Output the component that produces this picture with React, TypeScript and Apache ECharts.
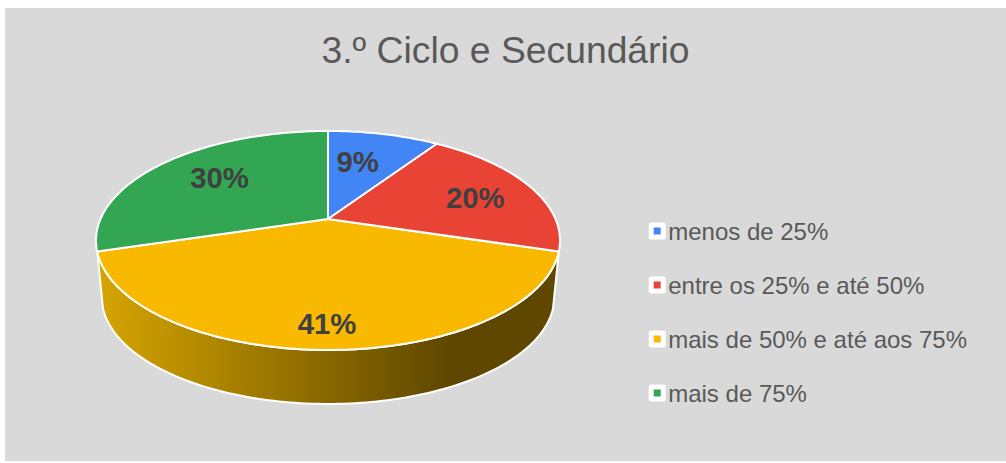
import React, { useEffect, useRef } from "react";
import * as echarts from "echarts";

const categories = ["menos de 25%", "entre os 25% e até 50%", "mais de 50% e até aos 75%", "mais de 75%"];
const values = [9.4, 20.3, 40.6, 29.7];
const colors = ["#4285f4", "#e94335", "#f8b900", "#33a654"];
const titleText = "3.º Ciclo e Secundário";

// projection of the tilted disc
const CX = 328, CY = 219, A = 227.5, B = 105.3, K = 0.196;
const WALL_SCALE = 0.975, WALL_DROP = 57.3;
const labelRadius = [0.56, 0.72, 0.87, 0.65];
const labelNudge = [[-4, -6], [0, 3], [-1, -6], [2, -4]];

const total = values.reduce((a, b) => a + b, 0);
const cumBefore = (i: number) => values.slice(0, i).reduce((a, b) => a + b, 0);

const project = (theta: number, r = 1, s = 1, dy = 0): number[] => {
  const u = r * Math.sin(theta), v = r * Math.cos(theta), w = 1 + K * v;
  return [CX + (s * A * u) / w, CY + dy - (s * B * v) / w];
};
const rim = (t0: number, t1: number, s = 1, dy = 0): number[][] => {
  const n = Math.max(4, Math.ceil(Math.abs(t1 - t0) * 50));
  const pts: number[][] = [];
  for (let i = 0; i <= n; i++) pts.push(project(t0 + ((t1 - t0) * i) / n, 1, s, dy));
  return pts;
};

const renderSlice = (idx: number) => (_params: any, api: any) => {
  const val = api.value(0);
  const t0 = (cumBefore(idx) / total) * Math.PI * 2;
  const t1 = t0 + (val / total) * Math.PI * 2;
  const children: any[] = [];
  if (Math.cos(t0) < 0 && Math.cos(t1) < 0) {
    const wall = [...rim(t0, t1), ...rim(t1, t0, WALL_SCALE, WALL_DROP)];
    children.push({
      type: "polygon",
      shape: { points: wall },
      style: {
        fill: new echarts.graphic.LinearGradient(0, 0, 1, 0, [
          { offset: 0, color: "#d6a500" },
          { offset: 0.76, color: "#5f4700" },
          { offset: 1, color: "#5f4700" },
        ]),
        stroke: "#ffffff",
        lineWidth: 2,
        lineJoin: "round",
      },
    });
  }
  children.push({
    type: "polygon",
    shape: { points: [[CX, CY], ...rim(t0, t1)] },
    style: { fill: api.visual("color"), stroke: "#ffffff", lineWidth: 2, lineJoin: "round" },
  });
  return { type: "group", children };
};

const renderLabel = (idx: number) => (_params: any, api: any) => {
  const val = api.value(0);
  const t0 = (cumBefore(idx) / total) * Math.PI * 2;
  const mid = t0 + (val / total) * Math.PI;
  const [x, y] = project(mid, labelRadius[idx]);
  return {
    type: "text",
    style: {
      x: x + labelNudge[idx][0],
      y: y + labelNudge[idx][1],
      text: `${Math.round(val)}%`,
      fill: "#404040",
      font: 'bold 29.3px "Liberation Sans", Arial, sans-serif',
      align: "center",
      verticalAlign: "middle",
    },
  };
};

export default function App() {
  const ref = useRef<HTMLDivElement>(null);
  useEffect(() => {
    document.body.style.margin = "0";
    const chart = echarts.init(ref.current!, undefined, { renderer: "svg" });
    chart.setOption({
      animation: false,
      backgroundColor: "#ffffff",
      graphic: {
        elements: [
          { type: "rect", z: -10, silent: true, shape: { x: 5, y: 8, width: 1001, height: 453 }, style: { fill: "#d9d9d9" } },
        ],
      },
      title: {
        text: titleText,
        left: 500.5,
        top: 24,
        textAlign: "center",
        textStyle: { color: "#595959", fontSize: 37.3, fontWeight: "normal", fontFamily: '"Liberation Sans", Arial, sans-serif', lineHeight: 42 },
      },
      legend: {
        orient: "vertical",
        left: 648.7,
        top: 219,
        padding: 0,
        itemWidth: 12,
        itemHeight: 12,
        itemGap: 30,
        icon: "rect",
        data: categories,
        itemStyle: { borderColor: "#ffffff", borderWidth: 5, borderJoin: "round" },
        textStyle: { color: "#595959", fontSize: 24, lineHeight: 24, fontFamily: '"Liberation Sans", Arial, sans-serif' },
      },
      series: [
        ...[2, 0, 1, 3].map((i) => ({
          type: "custom",
          name: categories[i],
          coordinateSystem: "none",
          itemStyle: { color: colors[i] },
          data: [[values[i]]],
          renderItem: renderSlice(i),
          z: 2,
        })),
        ...[0, 1, 2, 3].map((i) => ({
          type: "custom",
          name: categories[i],
          coordinateSystem: "none",
          itemStyle: { color: colors[i] },
          data: [[values[i]]],
          renderItem: renderLabel(i),
          z: 3,
        })),
      ],
    });
    return () => chart.dispose();
  }, []);
  return <div ref={ref} style={{ width: 1006, height: 463 }} />;
}
